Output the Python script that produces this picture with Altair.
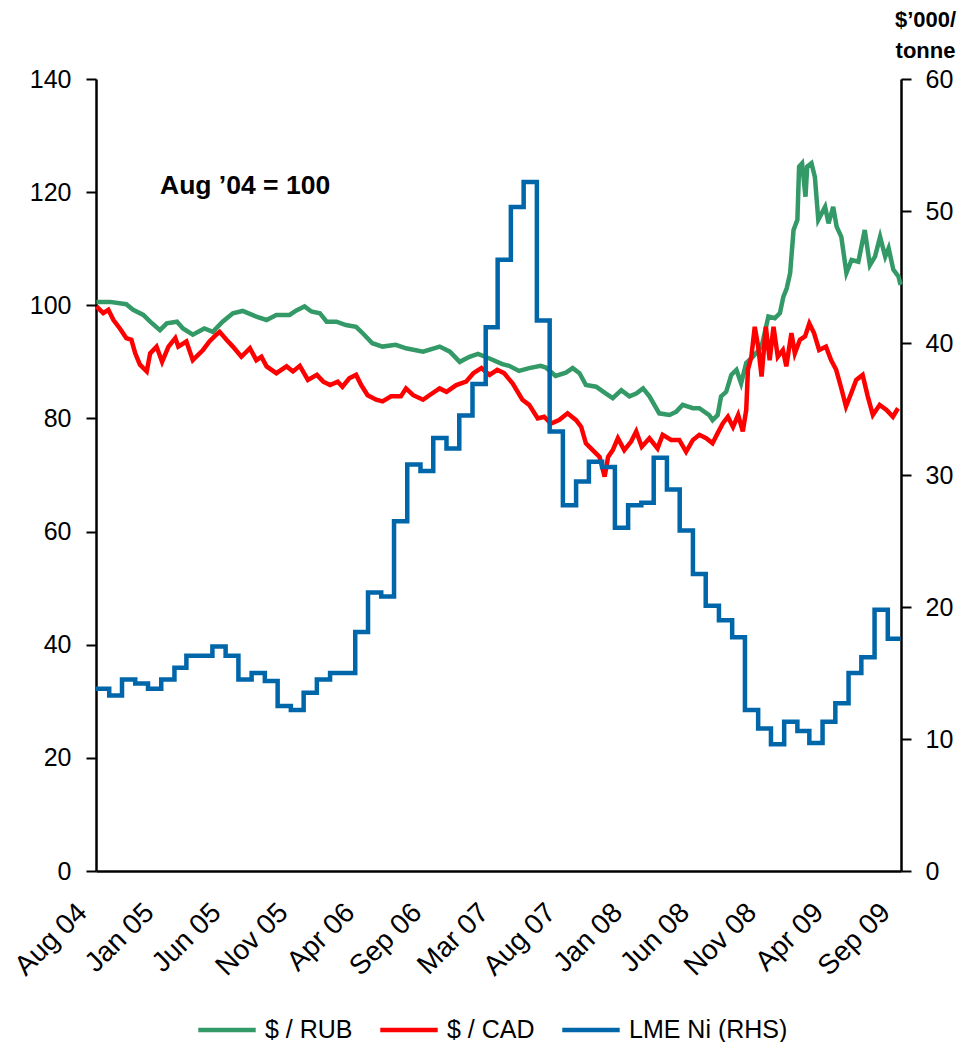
import altair as alt
import pandas as pd

FONT = "Liberation Sans"

# ---------------- data ----------------
rub_dates = ["2004-08-02", "2004-09-03", "2004-10-11", "2004-10-27", "2004-11-20", "2004-12-06",
             "2004-12-29", "2005-01-14", "2005-02-07", "2005-02-21", "2005-03-16", "2005-04-12",
             "2005-05-02", "2005-05-25", "2005-06-18", "2005-07-11", "2005-08-12", "2005-09-05",
             "2005-09-28", "2005-10-29", "2005-11-14", "2005-12-03", "2005-12-19", "2006-01-08",
             "2006-01-24", "2006-02-16", "2006-03-10", "2006-04-03", "2006-04-18", "2006-05-11",
             "2006-06-04", "2006-07-05", "2006-07-29", "2006-09-07", "2006-10-16", "2006-11-09",
             "2006-12-02", "2006-12-25", "2007-01-14", "2007-02-10", "2007-03-12", "2007-03-28",
             "2007-04-20", "2007-05-14", "2007-06-10", "2007-06-22", "2007-07-15", "2007-08-08",
             "2007-08-24", "2007-09-09", "2007-09-24", "2007-10-18", "2007-11-10", "2007-11-26",
             "2007-12-16", "2008-01-04", "2008-01-20", "2008-02-05", "2008-02-20", "2008-03-14",
             "2008-04-07", "2008-04-23", "2008-05-08", "2008-06-01", "2008-06-16", "2008-07-09",
             "2008-07-17", "2008-07-29", "2008-08-06", "2008-08-18", "2008-08-30", "2008-09-11",
             "2008-09-22", "2008-10-04", "2008-10-20", "2008-11-09", "2008-11-25", "2008-12-10",
             "2008-12-22", "2008-12-30", "2009-01-07", "2009-01-15", "2009-01-23", "2009-02-01",
             "2009-02-05", "2009-02-12", "2009-02-20", "2009-02-24", "2009-03-06", "2009-03-14",
             "2009-03-22", "2009-04-07", "2009-04-15", "2009-04-26", "2009-05-04", "2009-05-15",
             "2009-05-27", "2009-06-08", "2009-06-24", "2009-07-09", "2009-07-21", "2009-08-02",
             "2009-08-14", "2009-08-26", "2009-09-03", "2009-09-14", "2009-09-26", "2009-10-01"]
rub_vals = [100.6, 100.6, 100.2, 99.2, 98.3, 97.1,
            95.6, 96.8, 97.1, 95.9, 94.8, 95.9,
            95.3, 97.1, 98.6, 99.0, 98.0, 97.4,
            98.3, 98.3, 99.1, 99.8, 98.9, 98.6,
            97.1, 97.1, 96.5, 96.2, 95.1, 93.3,
            92.7, 93.0, 92.4, 91.8, 92.7, 91.8,
            90.0, 90.9, 91.4, 90.6, 89.6, 89.3,
            88.4, 88.9, 89.3, 89.0, 87.5, 88.1,
            88.9, 88.0, 85.9, 85.6, 84.4, 83.6,
            85.0, 83.9, 84.4, 85.3, 83.9, 80.9,
            80.6, 81.2, 82.4, 81.8, 81.8, 80.6,
            79.7, 80.6, 83.9, 84.7, 87.7, 88.6,
            86.2, 89.8, 90.9, 92.7, 98.0, 97.7,
            98.6, 101.5, 103.0, 105.7, 113.3, 115.1,
            124.5, 125.1, 119.2, 124.5, 125.1, 122.7,
            115.1, 117.4, 114.5, 117.4, 113.9, 112.1,
            105.7, 108.0, 107.7, 113.3, 107.1, 108.6,
            112.1, 108.6, 110.1, 106.3, 105.1, 103.6]

cad_dates = ["2004-08-02", "2004-08-18", "2004-08-30", "2004-09-11", "2004-09-26", "2004-10-11",
             "2004-10-23", "2004-11-01", "2004-11-12", "2004-11-28", "2004-12-06", "2004-12-21",
             "2005-01-03", "2005-01-18", "2005-02-03", "2005-02-10", "2005-03-01", "2005-03-16",
             "2005-04-09", "2005-04-24", "2005-05-10", "2005-05-18", "2005-06-03", "2005-06-18",
             "2005-07-08", "2005-07-28", "2005-08-12", "2005-08-24", "2005-09-05", "2005-09-28",
             "2005-10-22", "2005-11-06", "2005-11-22", "2005-12-11", "2006-01-01", "2006-01-16",
             "2006-02-01", "2006-02-19", "2006-03-02", "2006-03-18", "2006-04-03", "2006-04-15",
             "2006-04-30", "2006-05-20", "2006-06-04", "2006-06-24", "2006-07-17", "2006-07-29",
             "2006-08-15", "2006-09-07", "2006-09-22", "2006-10-16", "2006-11-01", "2006-11-24",
             "2006-12-17", "2007-01-03", "2007-01-22", "2007-02-10", "2007-02-28", "2007-03-16",
             "2007-04-05", "2007-04-28", "2007-05-14", "2007-06-03", "2007-06-18", "2007-07-04",
             "2007-07-23", "2007-08-12", "2007-09-01", "2007-09-13", "2007-09-24", "2007-10-14",
             "2007-10-26", "2007-11-07", "2007-11-15", "2007-11-26", "2007-12-08", "2007-12-23",
             "2008-01-08", "2008-01-20", "2008-02-02", "2008-02-20", "2008-03-10", "2008-03-22",
             "2008-04-11", "2008-04-30", "2008-05-16", "2008-06-01", "2008-06-16", "2008-07-02",
             "2008-07-17", "2008-07-29", "2008-08-10", "2008-08-22", "2008-09-03", "2008-09-15",
             "2008-09-26", "2008-10-04", "2008-10-08", "2008-10-16", "2008-10-24", "2008-11-01",
             "2008-11-09", "2008-11-19", "2008-11-28", "2008-12-07", "2008-12-17", "2008-12-29",
             "2009-01-06", "2009-01-18", "2009-01-26", "2009-02-07", "2009-02-19", "2009-03-01",
             "2009-03-12", "2009-03-24", "2009-04-09", "2009-04-21", "2009-05-03", "2009-05-14",
             "2009-05-26", "2009-06-07", "2009-06-19", "2009-07-04", "2009-07-16", "2009-07-28",
             "2009-08-13", "2009-08-29", "2009-09-13", "2009-09-25"]
cad_vals = [99.8, 98.6, 99.2, 97.4, 95.9, 94.2,
            93.9, 91.5, 89.5, 88.3, 91.5, 92.7,
            90.0, 92.7, 94.2, 92.7, 93.6, 90.3,
            92.1, 93.6, 94.8, 95.3, 93.9, 92.7,
            90.9, 92.4, 90.3, 90.9, 89.2, 88.0,
            89.2, 88.3, 89.3, 86.8, 87.7, 86.5,
            85.9, 86.5, 85.6, 87.1, 87.7, 85.9,
            84.1, 83.3, 83.0, 83.9, 83.9, 85.3,
            84.1, 83.3, 84.1, 85.3, 84.7, 85.9,
            86.5, 88.0, 88.9, 87.7, 88.6, 88.0,
            86.2, 83.3, 82.4, 80.0, 80.3, 79.1,
            79.7, 80.9, 79.7, 78.5, 75.6, 74.1,
            73.2, 69.7, 73.2, 74.4, 76.5, 74.4,
            75.9, 77.7, 75.0, 76.5, 74.7, 77.1,
            76.2, 76.2, 74.1, 76.2, 77.1, 76.5,
            75.6, 77.4, 79.1, 80.3, 78.5, 80.6,
            77.7, 81.5, 88.6, 90.9, 96.2, 92.7,
            87.4, 96.2, 90.3, 96.2, 90.9, 92.1,
            89.2, 95.1, 91.5, 93.9, 94.5, 96.8,
            95.1, 92.1, 92.7, 90.3, 88.6, 85.6,
            82.1, 84.4, 86.8, 87.7, 83.9, 80.6,
            82.4, 81.5, 80.3, 81.8]

# LME nickel monthly averages, $'000/tonne, Aug 2004 .. Sep 2009
ni_first_month = "2004-08-01"
ni_vals = [13.8, 13.3, 14.5, 14.2, 13.8,
           14.5, 15.4, 16.3, 16.3, 17.0, 16.3, 14.5, 15.0, 14.4, 12.5, 12.2, 13.5,
           14.5, 15.0, 15.0, 18.1, 21.1, 20.8, 26.5, 30.8, 30.3, 32.8, 32.0, 34.5,
           36.9, 41.2, 46.3, 50.3, 52.2, 41.7, 33.3, 27.7, 29.5, 31.0, 30.6, 26.0,
           27.7, 27.9, 31.3, 28.9, 25.8, 22.5, 20.1, 19.0, 17.7, 12.2, 10.8, 9.6,
           11.3, 10.6, 9.7, 11.3, 12.7, 15.0, 16.2, 19.8, 17.6]
ni_end = "2009-10-01"

x_tick_dates = ["2004-08-02", "2005-01-06", "2005-06-12", "2005-11-16", "2006-04-22",
                "2006-09-26", "2007-03-02", "2007-08-06", "2008-01-10", "2008-06-15",
                "2008-11-19", "2009-04-25", "2009-09-29"]
x_domain = ["2004-08-01", "2009-10-02"]
left_ticks = [0, 20, 40, 60, 80, 100, 120, 140]
right_ticks = [0, 10, 20, 30, 40, 50, 60]

series = ["$ / RUB", "$ / CAD", "LME Ni (RHS)"]
colors = ["#339966", "#FF0000", "#0066AA"]
annotation = "Aug \u201904 = 100"
right_title = ["$\u2019000/", "tonne"]

# ---------------- tables ----------------
fx = pd.concat([
    pd.DataFrame({"date": rub_dates, "value": rub_vals, "series": series[0]}),
    pd.DataFrame({"date": cad_dates, "value": cad_vals, "series": series[1]}),
], ignore_index=True)

ni_months = [d.strftime("%Y-%m-%d") for d in pd.date_range(ni_first_month, periods=len(ni_vals), freq="MS")]
ni = pd.DataFrame({"date": ni_months + [ni_end], "value": ni_vals + [ni_vals[-1]], "series": series[2]})


def dt(s):
    y, m, d = (int(p) for p in s.split("-"))
    return alt.DateTime(year=y, month=m, date=d, utc=True)


color = alt.Color(
    "series:N",
    scale=alt.Scale(domain=series, range=colors),
    legend=alt.Legend(
        title=None, orient="none", legendX=100, legendY=920, direction="horizontal", columns=3,
        symbolType="stroke", symbolStrokeWidth=4.5, symbolSize=3300, labelFontSize=25,
        labelFont=FONT, labelColor="black", columnPadding=18, labelOffset=7,
    ),
)

x_enc = alt.X(
    "date:T",
    title=None,
    scale=alt.Scale(type="utc", domain=[dt(d) for d in x_domain]),
    axis=alt.Axis(
        values=[dt(d) for d in x_tick_dates], format="%b %y", labelAngle=-45,
        labelAlign="right", labelBaseline="middle", labelPadding=37, labelOffset=-14,
        ticks=False, domainColor="black", domainWidth=2.5, labelFontSize=28,
        labelFont=FONT, labelColor="black", grid=False, labelOverlap=False, labelFlush=False,
    ),
)

left_axis = alt.Axis(
    orient="left", values=left_ticks, labelFontSize=25, labelFont=FONT, labelColor="black",
    tickSize=10, tickWidth=2, tickColor="black", domainColor="black", domainWidth=2.5,
    labelPadding=15, grid=False, title=None,
)
right_axis = alt.Axis(
    orient="right", values=right_ticks, labelFontSize=25, labelFont=FONT, labelColor="black",
    tickSize=10, tickWidth=2, tickColor="black", domainColor="black", domainWidth=2.5,
    labelPadding=14, grid=False, title=right_title, titleAngle=0, titleX=24, titleY=-60,
    titleAlign="center", titleBaseline="middle", titleFontSize=22, titleFontWeight="bold",
    titleFont=FONT, titleColor="black", titleLineHeight=31,
)

fx_lines = alt.Chart(fx).mark_line(strokeWidth=4.5).encode(
    x=x_enc,
    y=alt.Y("value:Q", scale=alt.Scale(domain=[0, 140]), axis=left_axis),
    color=color,
)

ni_line = alt.Chart(ni).mark_line(strokeWidth=4.5, interpolate="step-after").encode(
    x=x_enc,
    y=alt.Y("value:Q", scale=alt.Scale(domain=[0, 60]), axis=right_axis),
    color=color,
)

note = alt.Chart(pd.DataFrame({"t": [annotation]})).mark_text(
    align="left", baseline="middle", fontSize=26.5, fontWeight="bold", font=FONT, color="black",
).encode(text="t:N", x=alt.value(64), y=alt.value(107))

chart = alt.layer(fx_lines, ni_line, note).resolve_scale(y="independent").properties(
    width=805, height=792,
    autosize=alt.AutoSizeParams(type="none"),
    padding={"left": 88, "top": 71, "right": 58, "bottom": 171},
).configure_view(strokeWidth=0)

chart.save("out.html", embed_options={"renderer": "svg", "actions": False})
